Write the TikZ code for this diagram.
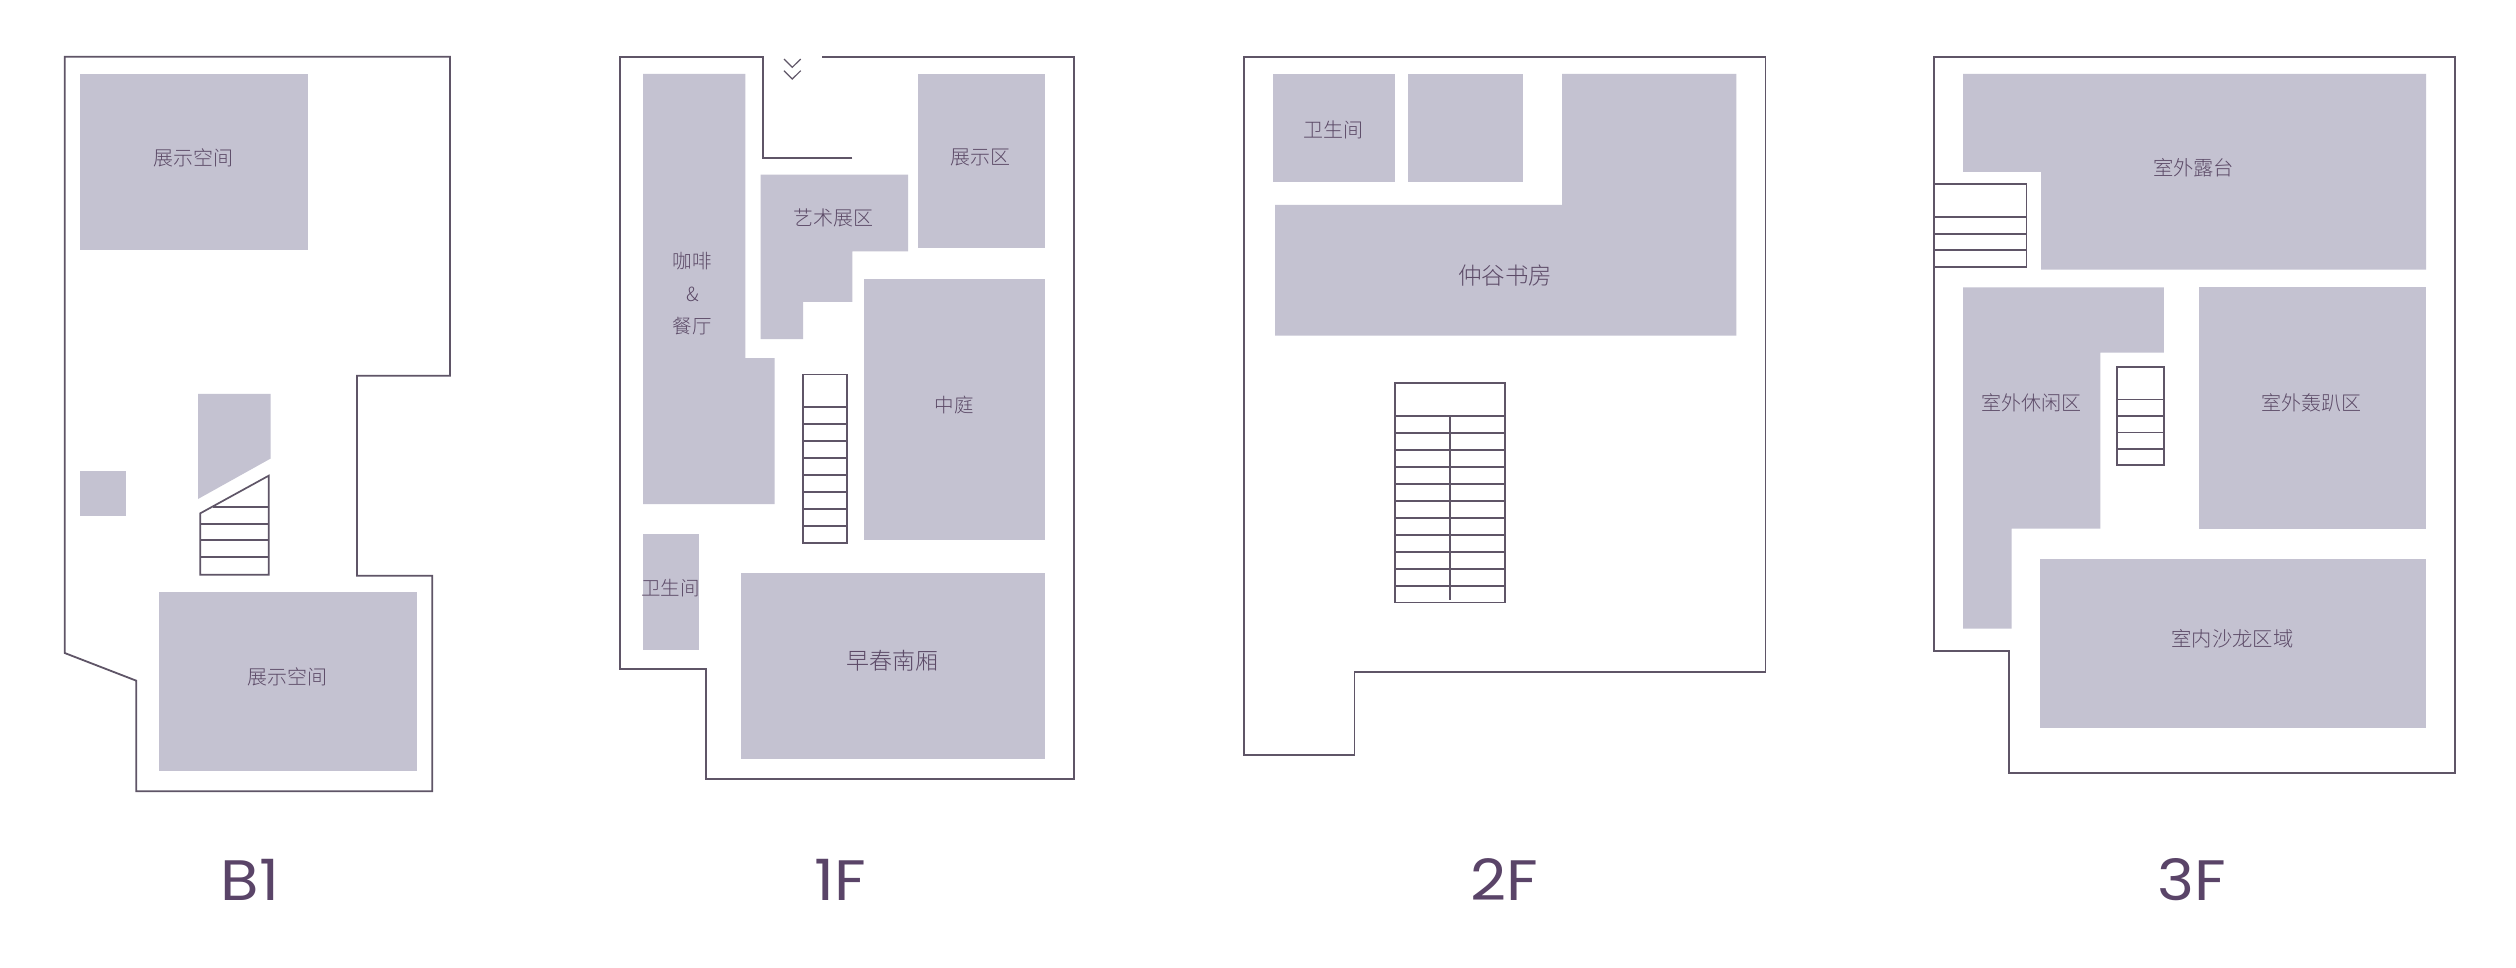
\documentclass[tikz,border=0pt]{standalone}
\usepackage{fontspec}
\setmainfont[FakeStretch=1.1]{Poppins}
\newfontfamily\cjk{Noto Sans CJK SC Light}
\definecolor{roomfill}{HTML}{C4C2D1}
\definecolor{wallcol}{HTML}{5F5567}
\definecolor{txtcol}{HTML}{5C4A67}
\definecolor{floorcol}{HTML}{5A4468}
\begin{document}
\begin{tikzpicture}[x=1pt,y=-1pt,
	room/.style={fill=roomfill},
	wall/.style={draw=wallcol,line width=1.8pt},
	stair/.style={draw=wallcol,line width=1.7pt},
	roomtxt/.style={text=txtcol,inner sep=0pt,font=\cjk\fontsize{#1}{#1}\selectfont},
	floortxt/.style={text=floorcol,inner sep=0pt,anchor=base,font=\fontsize{57}{57}\selectfont}]
	\useasboundingbox (0,0) rectangle (2516,968);
	\fill [white] (0,0) rectangle (2516,968);
	\begin{scope}
	\fill [room] (80,74) rectangle (307.7,250.3);
	\fill [room] (198,393.8) -- (270.7,393.8) -- (270.7,458.5) -- (198,499) -- cycle;
	\fill [room] (80,470.5) rectangle (126,516);
	\fill [room] (159.3,592) rectangle (417,771.3);
	\draw [wall] (64.7,56.7) -- (450,56.7) -- (450,375.7) -- (357,375.7) -- (357,575.7) -- (432.3,575.7) -- (432.3,791.3) -- (136.3,791.3) -- (136.3,680.7) -- (64.7,653) -- cycle;
	\draw [stair] (200.3,513.3) -- (268.7,475.7) -- (268.7,574.7) -- (200.3,574.7) -- cycle;
	\draw [stair] (213,506.7) -- (268.7,506.7) (200.3,523.7) -- (268.7,523.7) (200.3,540.3) -- (268.7,540.3) (200.3,557.3) -- (268.7,557.3);
	\node [roomtxt=20] (b1top) at (193.3,158) {展示空间};
	\node [roomtxt=20] (b1low) at (287,677) {展示空间};
	\node [floortxt] (b1) at (250,900.7) {B1};
	\end{scope}
	\begin{scope}
	\fill [room] (643,74) -- (745.3,74) -- (745.3,358) -- (774.7,358) -- (774.7,504) -- (643,504) -- cycle;
	\fill [room] (760.7,174.7) -- (908,174.7) -- (908,251.3) -- (852.3,251.3) -- (852.3,302) -- (803,302) -- (803,339) -- (760.7,339) -- cycle;
	\fill [room] (917.7,74) rectangle (1045,248);
	\fill [room] (864,279.3) rectangle (1045,540);
	\fill [room] (643,533.7) rectangle (699.3,650);
	\fill [room] (741,573.3) rectangle (1045,759);
	\draw [wall] (852.3,157.7) -- (763,157.7) -- (763,56.7) -- (620,56.7) -- (620,668.7) -- (706,668.7) -- (706,779) -- (1074.3,779) -- (1074.3,56.7) -- (822.3,56.7);
	\draw [draw=wallcol,line width=1.2pt] (784,59) -- (792.3,67.3) -- (800.7,59) (784,70.7) -- (792.3,79) -- (800.7,70.7);
	\draw [stair] (803.3,374.5) rectangle (847.3,543);
	\draw [stair] (803.3,407.3) -- (847.3,407.3) (803.3,424.3) -- (847.3,424.3) (803.3,441.3) -- (847.3,441.3) (803.3,458.3) -- (847.3,458.3) (803.3,475.3) -- (847.3,475.3) (803.3,492.3) -- (847.3,492.3) (803.3,509.3) -- (847.3,509.3) (803.3,526.3) -- (847.3,526.3);
	\node [roomtxt=19.5] (cafe) at (692.3,260.7) {咖啡};
	\node [roomtxt=19.5] (cafeand) at (692.3,294) {\&};
	\node [roomtxt=19.5] (canteen) at (692.3,326) {餐厅};
	\node [roomtxt=20] (artzone) at (833.3,217.7) {艺术展区};
	\node [roomtxt=20] (showzone) at (980,157) {展示区};
	\node [roomtxt=19.5] (atrium) at (954,405) {中庭};
	\node [roomtxt=19.5] (wc1) at (670.3,588) {卫生间};
	\node [roomtxt=23] (southwing) at (892,660.7) {早春南厢};
	\node [floortxt] (f1) at (840,900.7) {1F};
	\end{scope}
	\begin{scope}
	\fill [room] (1273,74) rectangle (1395.2,182.3);
	\fill [room] (1408.1,74) rectangle (1523.3,182.3);
	\fill [room] (1275.2,205) -- (1562.2,205) -- (1562.2,74) -- (1736.3,74) -- (1736.3,335.7) -- (1275.2,335.7) -- cycle;
	\draw [wall] (1243.7,56.7) -- (1765.5,56.7) -- (1765.5,671.7) -- (1354.4,671.7) -- (1354.4,755) -- (1243.7,755) -- cycle;
	\draw [stair] (1394.8,383) rectangle (1504.8,602.5);
	\draw [stair] (1394.8,416) -- (1504.8,416) (1394.8,433) -- (1504.8,433) (1394.8,450) -- (1504.8,450) (1394.8,467) -- (1504.8,467) (1394.8,484) -- (1504.8,484) (1394.8,501) -- (1504.8,501) (1394.8,518) -- (1504.8,518) (1394.8,535) -- (1504.8,535) (1394.8,552) -- (1504.8,552) (1394.8,569) -- (1504.8,569) (1394.8,586) -- (1504.8,586);
	\draw [stair] (1449.7,416) -- (1449.7,600);
	\node [roomtxt=20] (wc2) at (1333.3,130) {卫生间};
	\node [roomtxt=23.5] (study) at (1505.2,275.7) {仲谷书房};
	\node [floortxt] (f2) at (1504.1,900.7) {2F};
	\end{scope}
	\begin{scope}
	\fill [room] (1963.2,74) -- (2426.1,74) -- (2426.1,269.7) -- (2041,269.7) -- (2041,172) -- (1963.2,172) -- cycle;
	\fill [room] (1963.2,287.5) -- (2163.9,287.5) -- (2163.9,352.5) -- (2100.4,352.5) -- (2100.4,528.5) -- (2011.5,528.5) -- (2011.5,628.5) -- (1963.2,628.5) -- cycle;
	\fill [room] (2199,287.5) rectangle (2426.1,528.5);
	\fill [room] (2040.4,559) rectangle (2426.1,728);
	\draw [wall] (1934.3,56.7) -- (2455,56.7) -- (2455,773) -- (2009.3,773) -- (2009.3,651) -- (1934.3,651) -- cycle;
	\draw [stair] (1934.3,184.3) rectangle (2026.5,266.7);
	\draw [stair] (1934.3,217.3) -- (2026.5,217.3) (1934.3,233.7) -- (2026.5,233.7) (1934.3,250.3) -- (2026.5,250.3);
	\draw [stair] (2116.8,367) rectangle (2164.2,465);
	\draw [stair] (2116.8,399.5) -- (2164.2,399.5) (2116.8,416) -- (2164.2,416) (2116.8,432.5) -- (2164.2,432.5) (2116.8,449) -- (2164.2,449);
	\node [roomtxt=20.3] (terrace) at (2193.6,168) {室外露台};
	\node [roomtxt=20] (lounge) at (2031.8,403) {室外休闲区};
	\node [roomtxt=20] (party) at (2311.8,403) {室外轰趴区};
	\node [roomtxt=20.3] (salon) at (2232.5,639) {室内沙龙区域};
	\node [floortxt] (f3) at (2191.5,900.7) {3F};
	\end{scope}
\end{tikzpicture}
\end{document}
